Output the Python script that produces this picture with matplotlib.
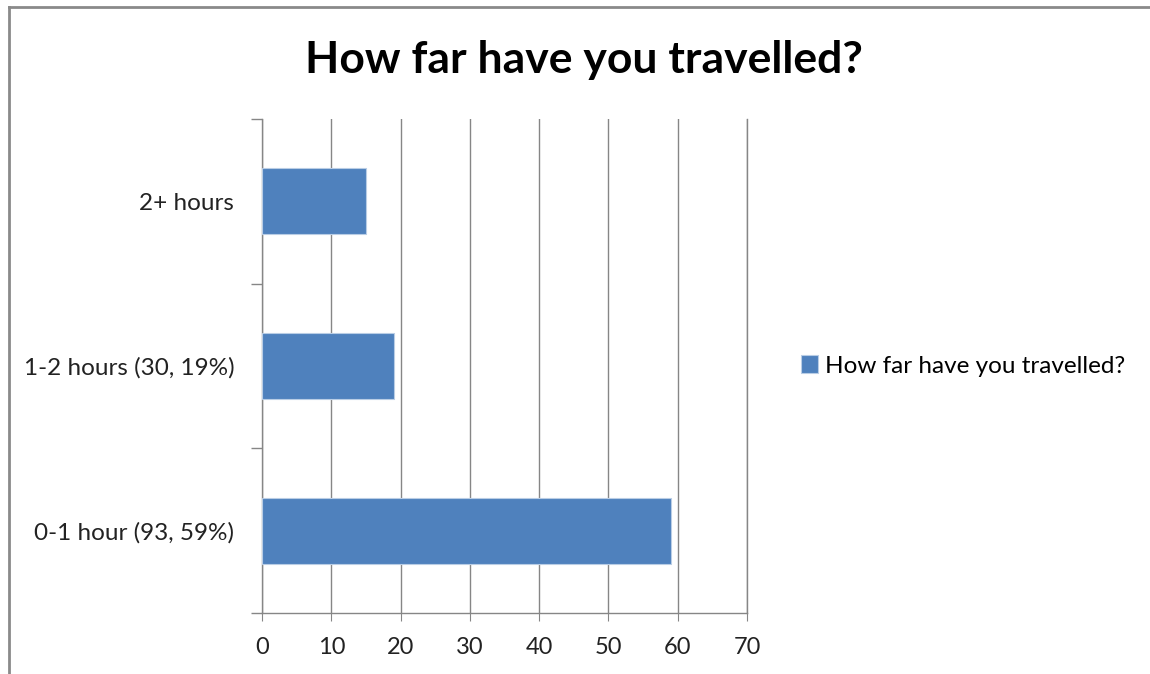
import matplotlib.pyplot as plt
from matplotlib.lines import Line2D
import numpy as np

# ------------------------------- data ---------------------------------
categories = ['0-1 hour (93, 59%)', '1-2 hours (30, 19%)', '2+ hours']
values = [59, 19, 15]
xticks = [0, 10, 20, 30, 40, 50, 60, 70]
series_name = 'How far have you travelled?'

bar_color = '#4F81BD'
grey = '#868686'

plt.rcParams['font.family'] = ['Lato', 'DejaVu Sans']

fig = plt.figure(figsize=(11.5, 6.74), dpi=100)
ax = fig.add_axes([262/1150, 61/674, 485/1150, 494/674])

y = np.arange(len(categories))
ax.barh(y, values, height=0.4, color=bar_color, edgecolor='#B9CDE5',
        linewidth=0.8, label=series_name, zorder=3)

ax.set_xlim(0, 70)
ax.set_ylim(-0.5, len(categories) - 0.5)
ax.set_xticks(xticks)
ax.set_xticklabels([str(t) for t in xticks], fontsize=17, color='#222222')
ax.set_yticks(y)
ax.set_yticklabels(categories, fontsize=17.5, color='#222222')
ax.tick_params(axis='y', length=0, pad=20)
ax.tick_params(axis='x', length=6, color=grey, pad=11)

# category boundary ticks on the y axis
ax.set_yticks(np.arange(-0.5, len(categories)), minor=True)
ax.tick_params(axis='y', which='minor', length=8, color=grey, width=1)

ax.grid(axis='x', color=grey, linewidth=1, zorder=0)
ax.spines['top'].set_visible(False)
for side in ['left', 'bottom', 'right']:
    ax.spines[side].set_color(grey)
    ax.spines[side].set_linewidth(1)

fig.text(584/1150, 1 - 60/674, 'How far have you travelled?', ha='center', va='center',
         fontsize=32, fontweight='bold', color='black')

ax.legend(loc='center left', bbox_to_anchor=(529/485, 0.5),
          frameon=False, fontsize=17.5, handlelength=0.7, handleheight=0.7,
          handletextpad=0.3, borderaxespad=0)

# outer chart frame
fig.add_artist(Line2D([9/1150, 9/1150], [0, 1 - 7/674], color='#8a8a8a', lw=2,
                      transform=fig.transFigure))
fig.add_artist(Line2D([9/1150, 1], [1 - 7/674, 1 - 7/674], color='#8a8a8a', lw=2,
                      transform=fig.transFigure))

fig.savefig('out.png', dpi=100)
